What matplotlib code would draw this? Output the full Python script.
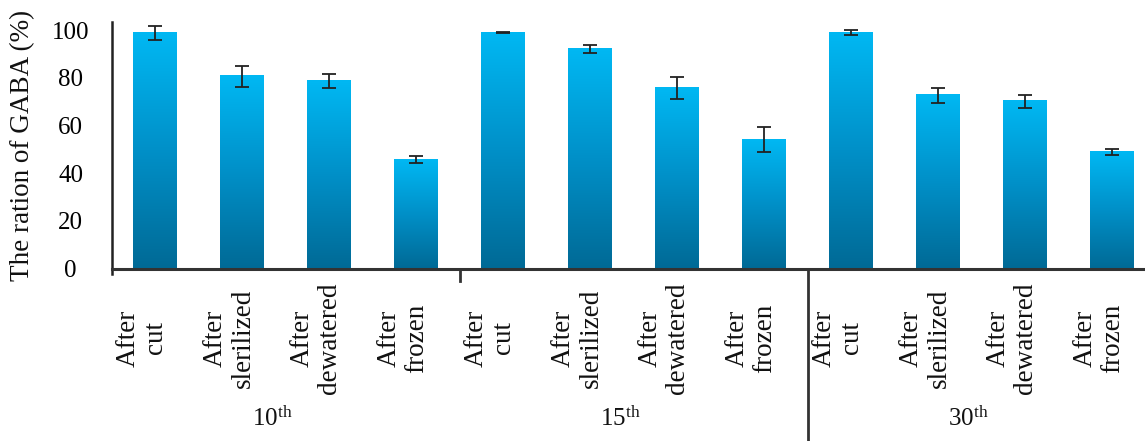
import matplotlib
matplotlib.use("Agg")
import matplotlib.pyplot as plt
import numpy as np
from matplotlib.colors import LinearSegmentedColormap
import matplotlib.transforms as mtransforms

# ---- data ----
categories = ["After\ncut", "After\nslerilized", "After\ndewatered", "After\nfrozen",
              "After\ncut", "After\nslerilized", "After\ndewatered", "After\nfrozen",
              "After\ncut", "After\nslerilized", "After\ndewatered", "After\nfrozen"]
values = [99.0, 80.7, 78.7, 45.7, 99.0, 92.1, 75.9, 54.1, 99.0, 72.7, 70.2, 48.9]
errors = [3.0, 4.4, 3.1, 1.4, 0.3, 1.7, 4.6, 5.3, 1.0, 3.2, 2.8, 1.1]
groups = ["10", "15", "30"]
yticks = [0, 20, 40, 60, 80, 100]
ylabel = "The ration of GABA (%)"

plt.rcParams['font.family'] = ['Liberation Serif', 'DejaVu Serif']
plt.rcParams['mathtext.fontset'] = 'custom'
plt.rcParams['mathtext.rm'] = 'Liberation Serif'
plt.rcParams['mathtext.it'] = 'Liberation Serif:italic'

W, H = 1145, 441
fig = plt.figure(figsize=(W / 100, H / 100), dpi=100)
left_px, right_px, zero_px, top_px = 111.5, 1155.5, 268.5, 22
ax = fig.add_axes([left_px / W, (H - zero_px) / H, (right_px - left_px) / W, (zero_px - top_px) / H])

x = np.arange(len(values))
bw = 0.5
cmap = LinearSegmentedColormap.from_list("g", ["#006A96", "#0090C8", "#00B8F3"])
bars = ax.bar(x, values, width=bw, color="none", edgecolor="none", zorder=2)
grad = np.linspace(0, 1, 256).reshape(-1, 1)
for b in bars:
    x0, y0 = b.get_x(), b.get_y()
    w, h = b.get_width(), b.get_height()
    ax.imshow(grad, cmap=cmap, origin="lower", aspect="auto",
              extent=(x0, x0 + w, y0, y0 + h), zorder=2)
ax.errorbar(x, values, yerr=errors, fmt="none", ecolor="#222222",
            elinewidth=1.3, capsize=5, capthick=1.3, zorder=3)

ax.set_xlim(-0.5, 11.5)
ax.set_ylim(0, 103.5)
ax.set_yticks(yticks)
ax.set_yticklabels([str(t) for t in yticks], fontsize=18, ha="center")
ax.tick_params(axis="y", length=0, pad=29.5)
ax.set_xticks([])
ax.set_ylabel(ylabel, fontsize=19.5, labelpad=12, color="#111111")

trans = mtransforms.blended_transform_factory(ax.transData, ax.transAxes)
ax_h_px = zero_px - top_px
unit_px = (right_px - left_px) / 12.0

for xi, lab in zip(x, categories):
    ax.text(xi - 13 / unit_px, -(338 - zero_px) / ax_h_px, lab, transform=trans,
            rotation=90, ha="center", va="center", multialignment="center",
            fontsize=19.5, linespacing=1.15, color="#111111")

for s in ["top", "right"]:
    ax.spines[s].set_visible(False)
ax.spines["left"].set_linewidth(1.8)
ax.spines["left"].set_color("#222222")
ax.spines["bottom"].set_linewidth(2.2)
ax.spines["bottom"].set_color("#333333")

ax.plot([3.5, 3.5], [0, -12 / ax_h_px], transform=trans, color="#333333", lw=2, clip_on=False)
ax.plot([7.5, 7.5], [0, -(H - zero_px) / ax_h_px], transform=trans, color="#333333", lw=2, clip_on=False)
ax.plot([-0.5, -0.5], [0, -5 / ax_h_px], transform=trans, color="#222222", lw=1.8, clip_on=False)

for i, g in enumerate(groups):
    gx = i * 4 + 1.5 - 0.15
    ax.text(gx, -(419 - zero_px) / ax_h_px, g + r"$^{\mathrm{th}}$", transform=trans,
            ha="center", va="center", fontsize=18, color="#111111")

fig.savefig("out.png", dpi=100)
